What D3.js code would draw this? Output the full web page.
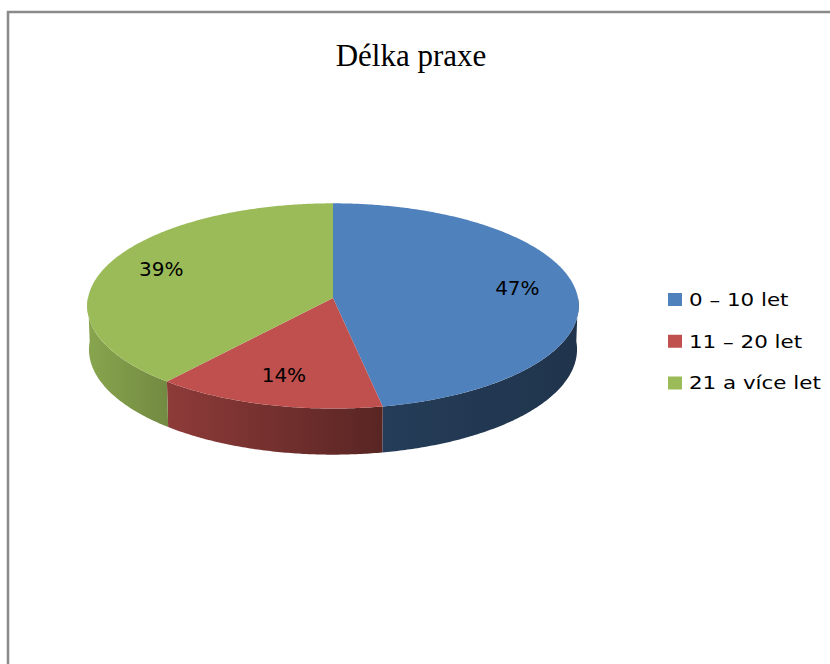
<!DOCTYPE html>
<html>
<head>
<meta charset="utf-8">
<script src="https://cdn.jsdelivr.net/npm/d3@7"></script>
<style>
  body { margin: 0; background: #fff; }
  svg { display: block; }
</style>
</head>
<body>
<div id="chart"></div>
<script>
// data
const categories = ["0 – 10 let", "11 – 20 let", "21 a více let"];
const values = [47, 14, 39];
const colors = ["#4f81bd", "#c0504d", "#9bbb59"];
const title = "Délka praxe";

// constants
const width = 830;
const height = 664;
const cx = 333, cy = 298;      // where the slices meet
const R = 245;                 // pie radius
const depth = 48;              // pie thickness
const tilt = 24.6 * Math.PI / 180;
const persp = 0.085;           // perspective strength

const svg = d3.select("#chart")
  .append("svg")
  .attr("width", width)
  .attr("height", height);

// chart frame
svg.append("rect")
  .attr("x", 8).attr("y", 12)
  .attr("width", 900).attr("height", 800)
  .attr("fill", "none")
  .attr("stroke", "#8a8a8a")
  .attr("stroke-width", 2.5);

// projection of a point on the pie: angle (clockwise from the back), radius fraction, height
function project(phi, r, y) {
  const X = r * Math.sin(phi), Z = -r * Math.cos(phi), Y = y / R;
  const ys = Z * Math.sin(tilt) - Y * Math.cos(tilt);
  const d = Z * Math.cos(tilt) + Y * Math.sin(tilt);
  const f = 1 / (1 - d * persp);
  return [cx + R * X * f, cy + R * ys * f];
}

const pie = d3.pie().sort(null).value(d => d)(values);
const line = d3.line();

function arcPoints(a0, a1, y) {
  const n = Math.max(2, Math.ceil((a1 - a0) / 0.01));
  return d3.range(n + 1).map(i => project(a0 + (a1 - a0) * i / n, 1, y));
}

// side shading gradients (lighter left, darker right)
const defs = svg.append("defs");
const shade = [[0, 0.88], [0.16, 0.74], [0.59, 0.47], [1, 0.40]];
pie.forEach((p, i) => {
  const c = d3.rgb(colors[i]);
  const g = defs.append("linearGradient")
    .attr("id", "side" + i)
    .attr("gradientUnits", "userSpaceOnUse")
    .attr("x1", cx - R).attr("x2", cx + R)
    .attr("y1", 0).attr("y2", 0);
  g.selectAll("stop")
    .data(shade)
    .join("stop")
    .attr("offset", d => d[0])
    .attr("stop-color", d => d3.rgb(c.r * d[1], c.g * d[1], c.b * d[1]));
});

// side walls (front half only)
svg.selectAll("path.side")
  .data(pie.filter(p => p.endAngle > Math.PI / 2 && p.startAngle < 3 * Math.PI / 2))
  .join("path")
  .attr("class", "side")
  .attr("fill", d => "url(#side" + d.index + ")")
  .attr("d", d => {
    const a0 = Math.max(d.startAngle, Math.PI / 2);
    const a1 = Math.min(d.endAngle, 3 * Math.PI / 2);
    const top = arcPoints(a0, a1, 0);
    const bottom = arcPoints(a0, a1, -depth).reverse();
    return line(top.concat(bottom)) + "Z";
  });

// top faces
svg.selectAll("path.top")
  .data(pie)
  .join("path")
  .attr("class", "top")
  .attr("fill", d => colors[d.index])
  .attr("d", d => line([project(0, 0, 0)].concat(arcPoints(d.startAngle, d.endAngle, 0))) + "Z");

// percentage labels
const total = d3.sum(values);
svg.selectAll("text.pct")
  .data(pie)
  .join("text")
  .attr("class", "pct")
  .attr("x", d => project((d.startAngle + d.endAngle) / 2, 0.76, 0)[0])
  .attr("y", d => project((d.startAngle + d.endAngle) / 2, 0.76, 0)[1])
  .attr("dy", "0.2em")
  .attr("text-anchor", "middle")
  .attr("font-family", "DejaVu Sans, sans-serif")
  .attr("font-size", 20)
  .attr("fill", "#000")
  .text(d => d3.format(".0%")(d.value / total));

// title
svg.append("text")
  .attr("x", 411)
  .attr("y", 66)
  .attr("text-anchor", "middle")
  .attr("font-family", "Liberation Serif, serif")
  .attr("font-size", 31)
  .attr("fill", "#000")
  .text(title);

// legend
const legendY = d3.scalePoint()
  .domain(categories)
  .range([299.5, 383]);

const legend = svg.selectAll("g.legend")
  .data(categories)
  .join("g")
  .attr("class", "legend")
  .attr("transform", d => `translate(668,${legendY(d)})`);

legend.append("rect")
  .attr("x", 0).attr("y", -6.5)
  .attr("width", 14).attr("height", 13)
  .attr("fill", (d, i) => colors[i]);

legend.append("text")
  .attr("transform", "translate(21,0) scale(1.19,1)")
  .attr("dy", "0.36em")
  .attr("font-family", "DejaVu Sans, sans-serif")
  .attr("font-size", 18)
  .attr("fill", "#000")
  .text(d => d);
</script>
</body>
</html>
